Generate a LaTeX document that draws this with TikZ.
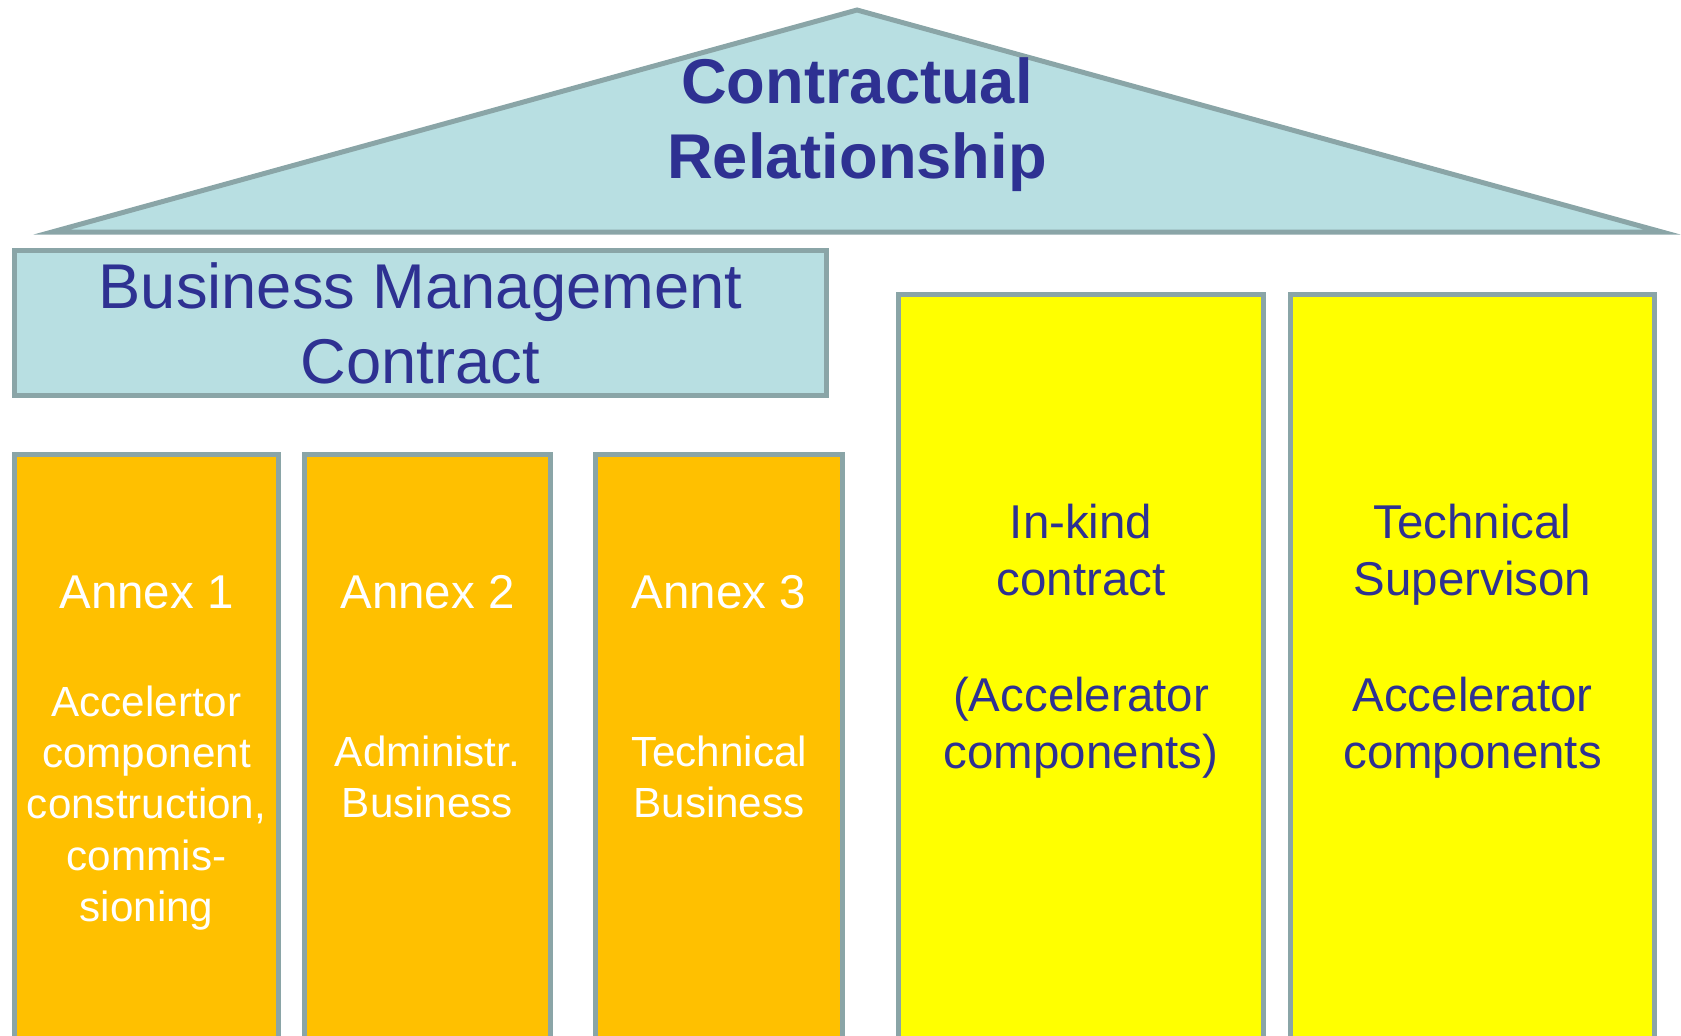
\documentclass[tikz,border=0pt]{standalone}
\usepackage{fontspec}
\setmainfont{Liberation Sans}
\definecolor{bordure}{HTML}{8AA5A7}
\definecolor{bleuclair}{HTML}{B8DFE2}
\definecolor{bleutexte}{HTML}{2E3192}
\definecolor{orangeannexe}{HTML}{FFC000}
\definecolor{jaune}{HTML}{FFFF00}
\tikzstyle{cadre} = [rectangle, draw=bordure, line width=1.42pt, outer sep=0pt, inner sep=0pt, anchor=north west]
\tikzstyle{annexe} = [cadre, fill=orangeannexe, minimum height=6.2cm]
\tikzstyle{contrat} = [cadre, fill=jaune, minimum height=7.8cm]
\tikzstyle{titre} = [inner sep=0pt, anchor=north, align=center, text=bleutexte, font=\fontsize{18pt}{21.3pt}\selectfont]
\tikzstyle{blanc} = [inner sep=0pt, anchor=north, align=center, text=white, font=\fontsize{13.5pt}{16.2pt}\selectfont]
\tikzstyle{petit} = [blanc, font=\fontsize{12pt}{14.6pt}\selectfont]
\tikzstyle{bleu} = [blanc, text=bleutexte, font=\fontsize{13.5pt}{16.4pt}\selectfont]

\begin{document}
\begin{tikzpicture}

        \useasboundingbox (0,0) rectangle (16.81,-10.35);
        \clip (0,0) rectangle (16.81,-10.35);

        % toit
        \draw[draw=bordure, fill=bleuclair, line width=1.42pt] (0.52,-2.32) -- (8.57,-0.10) -- (16.62,-2.32) -- cycle;
        \node (CR) [titre, font=\fontsize{18pt}{21.3pt}\selectfont\bfseries] at (8.57,-0.57) {Contractual\\Relationship};

        \node (BMC) [cadre, fill=bleuclair, minimum width=8.12cm, minimum height=1.45cm] at (0.145,-2.505) {};
        \node (BMCt) [titre] at (4.205,-2.62) {Business Management\\Contract};

        \node (A1) [annexe, minimum width=2.64cm] at (0.145,-4.545) {};
        \node (A2) [annexe, minimum width=2.46cm] at (3.045,-4.545) {};
        \node (A3) [annexe, minimum width=2.47cm] at (5.955,-4.545) {};

        \node (A1t) [blanc] at (1.465,-5.75) {Annex 1};
        \node (A2t) [blanc] at (4.275,-5.75) {Annex 2};
        \node (A3t) [blanc] at (7.19,-5.75) {Annex 3};

        \node (A1b) [petit] at (1.465,-6.85) {Accelertor\\component\\construction,\\commis-\\sioning};
        \node (A2b) [petit] at (4.275,-7.35) {Administr.\\Business};
        \node (A3b) [petit] at (7.19,-7.35) {Technical\\Business};

        \node (IK) [contrat, minimum width=3.65cm] at (8.985,-2.945) {};
        \node (TS) [contrat, minimum width=3.64cm] at (12.905,-2.945) {};

        \node (IKt) [bleu] at (10.81,-5.03) {In-kind\\contract\\[16.4pt](Accelerator\\components)};
        \node (TSt) [bleu] at (14.725,-5.03) {Technical\\Supervison\\[16.4pt]Accelerator\\components};

    \end{tikzpicture}
\end{document}
